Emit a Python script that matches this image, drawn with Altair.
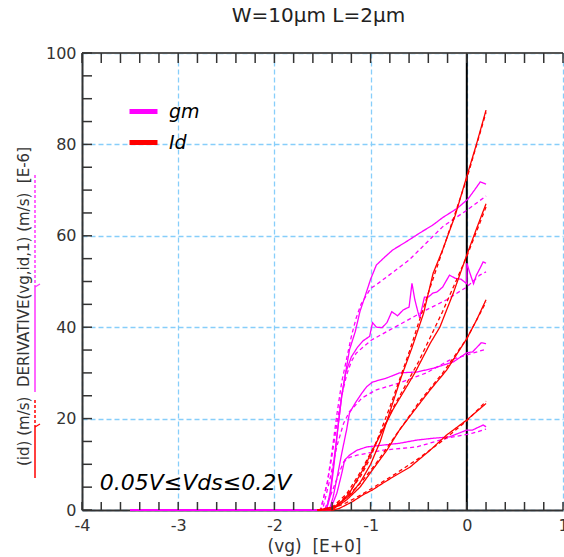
import altair as alt
import pandas as pd

# ---------------- data ----------------
# gm curves (transconductance), measured (solid) and simulated (dashed)
VG_GM1 = [-3.5, -1.46, -1.42, -1.38, -1.34, -1.3, -1.26, -1.22, -1.16, -1.11, -1.06, -1.0, -0.94, -0.85, -0.77, -0.63, -0.49, -0.35, -0.25, -0.1, 0.01, 0.08, 0.14, 0.2]
GM1 = [0, 0, 3, 10, 18, 25, 30, 35, 39, 43.5, 46.6, 50.5, 53.6, 55.4, 56.9, 58.7, 60.6, 62.4, 64, 66, 68, 70, 71.8, 71.3]
VG_GM1S = [-3.5, -1.52, -1.45, -1.4, -1.35, -1.3, -1.25, -1.2, -1.15, -1.1, -1.0, -0.94, -0.6, -0.25, 0.0, 0.2]
GM1S = [0, 0, 6, 13, 21, 28, 33, 38, 42, 45, 48.5, 49.3, 54.7, 62, 65.6, 68.7]

VG_GM2 = [-3.5, -1.46, -1.42, -1.38, -1.34, -1.3, -1.26, -1.2, -1.14, -1.08, -1.01, -0.98, -0.94, -0.88, -0.83, -0.78, -0.72, -0.66, -0.6, -0.57, -0.54, -0.51, -0.49, -0.44, -0.4, -0.35, -0.31, -0.25, -0.18, -0.12, -0.06, 0.0, 0.0, 0.03, 0.07, 0.1, 0.14, 0.17, 0.2]
GM2 = [0, 0, 4, 11, 18, 25, 30, 33.5, 35.5, 37, 38, 41, 40, 39.9, 41, 43.4, 42.5, 43.8, 44.4, 49.6, 46, 43.5, 42, 46.6, 46.6, 47.5, 47.7, 48.8, 51.4, 50.7, 50.5, 49.5, 54, 52, 49.5, 51.4, 53, 54.3, 54]
VG_GM2S = [-3.5, -1.52, -1.45, -1.4, -1.35, -1.3, -1.25, -1.2, -1.15, -1.08, -0.99, -0.8, -0.42, -0.21, 0.0, 0.135, 0.2]
GM2S = [0, 0, 6, 12, 19, 25, 29.5, 32.5, 34.3, 35.6, 37.2, 39.4, 43.8, 46, 48.8, 51.4, 52.1]

VG_GM3 = [-3.5, -1.43, -1.39, -1.34, -1.3, -1.25, -1.22, -1.16, -1.09, -1.04, -0.98, -0.83, -0.7, -0.52, -0.35, -0.14, 0.0, 0.06, 0.15, 0.2]
GM3 = [0, 0, 2.8, 8, 12.4, 17.5, 21.2, 23.4, 25.6, 27, 28, 28.9, 30, 30.2, 31, 32.4, 34.4, 34.6, 36.6, 36.4]
VG_GM3S = [-3.5, -1.5, -1.42, -1.35, -1.28, -1.22, -1.09, -0.94, -0.7, -0.42, -0.18, 0.06, 0.2]
GM3S = [0, 0, 7, 14, 19, 21.5, 24.5, 26.3, 27.8, 30, 32.8, 34.3, 35.2]

VG_GM4 = [-3.5, -1.42, -1.35, -1.3, -1.27, -1.22, -1.14, -1.04, -0.87, -0.7, -0.52, -0.35, -0.18, 0.0, 0.06, 0.17, 0.2]
GM4 = [0, 0, 3.7, 8, 10.9, 12, 13.1, 13.8, 14.2, 14.6, 15.3, 15.7, 16, 17.5, 17.5, 18.6, 18.2]
VG_GM4S = [-3.5, -1.48, -1.4, -1.33, -1.28, -1.22, -1.14, -0.87, -0.52, -0.21, 0.06, 0.2]
GM4S = [0, 0, 4, 8, 10.5, 11.5, 12, 13.1, 13.8, 15.7, 16.8, 17.7]

# Id curves, measured (solid) and simulated (dashed)
VG_ID1 = [-1.55, -1.42, -1.32, -1.2, -1.1, -1.0, -0.9, -0.8, -0.68, -0.57, -0.45, -0.35, -0.25, -0.12, 0.0, 0.1, 0.2]
ID1 = [0, 0.2, 1.5, 3.5, 6.3, 10, 15, 21.5, 29.2, 35.5, 43, 51.8, 57, 64.5, 73, 80, 87.5]
VG_ID1S = [-1.55, -1.4, -1.3, -1.2, -1.1, -1.0, -0.8, -0.6, -0.4, -0.2, 0.0, 0.2]
ID1S = [0, 0.5, 2, 4.5, 7.5, 11.5, 22.5, 34.5, 47.5, 60, 72.5, 87]

VG_ID2 = [-1.55, -1.35, -1.22, -1.08, -0.94, -0.77, -0.54, -0.38, -0.28, -0.14, 0.0, 0.1, 0.2]
ID2 = [0, 0.8, 3.7, 8.8, 14.7, 21.9, 30, 36.5, 40, 47.5, 55.8, 61.5, 67]
VG_ID2S = [-1.55, -1.4, -1.25, -1.1, -0.95, -0.75, -0.5, -0.25, 0.0, 0.2]
ID2S = [0, 0.6, 3.5, 8.5, 14.5, 23, 32.5, 43.5, 55.5, 66.3]

VG_ID3 = [-1.55, -1.39, -1.25, -1.11, -0.98, -0.83, -0.7, -0.52, -0.38, -0.21, 0.0, 0.1, 0.2]
ID3 = [0, 0.2, 2.2, 5, 8.8, 13.1, 17.5, 22.5, 26.3, 30.6, 37.5, 41.5, 46]
VG_ID3S = [-1.55, -1.4, -1.25, -1.1, -0.95, -0.75, -0.5, -0.25, 0.0, 0.2]
ID3S = [0, 0.4, 2.8, 6, 10, 16, 23.5, 30, 37.5, 45.5]

VG_ID4 = [-1.55, -1.39, -1.32, -1.19, -1.08, -0.98, -0.9, -0.77, -0.59, -0.38, -0.21, 0.0, 0.1, 0.2]
ID4 = [0, 0, 0.4, 1.8, 3.3, 4.4, 5.5, 7.2, 9.4, 13.1, 16.4, 19.7, 21.5, 23.3]
VG_ID4S = [-1.55, -1.4, -1.25, -1.1, -0.95, -0.75, -0.5, -0.25, 0.0, 0.2]
ID4S = [0, 0.3, 1.6, 3.3, 5.2, 7.8, 11.3, 15.2, 19.5, 23.8]

QUANTITIES = ["gm", "Id"]
KINDS = ["meas", "sim"]
X_LABELS = [-4, -3, -2, -1, 0, 1]
Y_LABELS = [0, 20, 40, 60, 80, 100]
X_MINOR = [round(-4 + 0.2 * i, 1) for i in range(26)]
Y_MINOR = [5 * i for i in range(21)]
NB = "\u00a0"
TITLE = "W=10\u00b5m L=2\u00b5m"
X_TITLE = "(vg)" + NB + NB + "[E+0]"
Y_TITLE = "(id)" + NB + "(m/s)" + NB + NB + "DERIVATIVE(vg,id,1)" + NB + "(m/s)" + NB + NB + "[E-6]"
NOTE = "0.05V\u2264Vds\u22640.2V"

series = [
    ("gm", "meas", "0.2", VG_GM1, GM1), ("gm", "sim", "0.2", VG_GM1S, GM1S),
    ("gm", "meas", "0.15", VG_GM2, GM2), ("gm", "sim", "0.15", VG_GM2S, GM2S),
    ("gm", "meas", "0.1", VG_GM3, GM3), ("gm", "sim", "0.1", VG_GM3S, GM3S),
    ("gm", "meas", "0.05", VG_GM4, GM4), ("gm", "sim", "0.05", VG_GM4S, GM4S),
    ("Id", "meas", "0.2", VG_ID1, ID1), ("Id", "sim", "0.2", VG_ID1S, ID1S),
    ("Id", "meas", "0.15", VG_ID2, ID2), ("Id", "sim", "0.15", VG_ID2S, ID2S),
    ("Id", "meas", "0.1", VG_ID3, ID3), ("Id", "sim", "0.1", VG_ID3S, ID3S),
    ("Id", "meas", "0.05", VG_ID4, ID4), ("Id", "sim", "0.05", VG_ID4S, ID4S),
]
rows = []
for q, kind, vds, xs, ys in series:
    for i, (xv, yv) in enumerate(zip(xs, ys)):
        rows.append(dict(vg=xv, val=yv, qty=q, kind=kind, sid=f"{q}-{kind}-{vds}", idx=i))
df = pd.DataFrame(rows)

W, H = 481, 457
FONT = "DejaVu Sans"
XS = alt.Scale(domain=[-4, 1], nice=False, zero=False)
YS = alt.Scale(domain=[0, 100], nice=False, zero=False)
GRID = dict(gridColor="#87CEFA", gridDash=[5, 3], gridWidth=1.3)

XAX = alt.Axis(values=X_LABELS, ticks=False, domainColor="#333", domainWidth=2, zindex=0,
               labelFontSize=16, labelColor="#333", labelPadding=7, labelFlush=False,
               labelExpr="datum.value", titleFontSize=17, titleFontWeight="normal",
               titleColor="#333", titleX=232, titleY=41, titleBaseline="alphabetic", **GRID)
YAX = alt.Axis(values=Y_LABELS, ticks=False, domainColor="#333", domainWidth=2, zindex=0,
               labelFontSize=16, labelColor="#333", labelPadding=6, labelFlush=False,
               titleFontSize=15, titleFontWeight="normal", titleColor="#333",
               titleAngle=270, titleX=-59, titleY=253, titleBaseline="middle",
               titleAlign="center", **GRID)


def xenc(field):
    return alt.X(field, scale=XS, axis=XAX, title=X_TITLE)


def yenc(field):
    return alt.Y(field, scale=YS, axis=YAX, title=Y_TITLE)


base = alt.Chart(df).mark_line(strokeWidth=1.3).encode(
    x=xenc("vg:Q"),
    y=yenc("val:Q"),
    color=alt.Color("qty:N", scale=alt.Scale(domain=QUANTITIES, range=["#FF00FF", "#FF0000"]),
                    legend=alt.Legend(orient="none", legendX=45, legendY=42, title=None,
                                      symbolType="stroke", symbolStrokeWidth=5, symbolSize=784,
                                      labelFontSize=19, labelFontStyle="italic", labelFont=FONT,
                                      labelColor="black", labelOffset=9, rowPadding=4, padding=0)),
    strokeDash=alt.StrokeDash("kind:N", scale=alt.Scale(domain=KINDS, range=[[1, 0], [4, 3]]), legend=None),
    detail="sid:N",
    order="idx:Q",
)

xt = pd.DataFrame({"t": X_MINOR})
yt = pd.DataFrame({"t": Y_MINOR})
one = pd.DataFrame({"xz": [0], "ytop": [100]})
note_df = pd.DataFrame({"x": [-3.815], "y": [4.4], "label": [NOTE]})
tick_style = dict(color="#333", strokeWidth=1.5)
bottom_ticks = alt.Chart(xt).mark_rule(**tick_style).encode(
    x=xenc("t:Q"), y=alt.value(H), y2=alt.value(H - 8))
top_ticks = alt.Chart(xt).mark_rule(**tick_style).encode(
    x=xenc("t:Q"), y=alt.value(0), y2=alt.value(10))
left_ticks = alt.Chart(yt).mark_rule(**tick_style).encode(
    y=yenc("t:Q"), x=alt.value(0), x2=alt.value(10))
top_border = alt.Chart(one).mark_rule(color="#555", strokeWidth=2).encode(
    y=yenc("ytop:Q"), x=alt.value(0), x2=alt.value(W))
zero_line = alt.Chart(one).mark_rule(color="black", strokeWidth=2).encode(
    x=xenc("xz:Q"), y=alt.value(0), y2=alt.value(H))
note = alt.Chart(note_df).mark_text(align="left", baseline="alphabetic", fontSize=22,
                                    fontStyle="italic", color="black", font=FONT).encode(
    x=xenc("x:Q"), y=yenc("y:Q"), text="label:N")


# coloured key lines next to the y title
def seg(color, y1, y2, dash=None):
    kw = dict(color=color, strokeWidth=1.5)
    if dash:
        kw["strokeDash"] = dash
    return alt.Chart(one).mark_rule(**kw).encode(
        x=alt.value(-47), y=alt.value(y1), y2=alt.value(y2))


def hook(color, y):
    return alt.Chart(one).mark_rule(color=color, strokeWidth=1.2).encode(
        x=alt.value(-47), x2=alt.value(-42), y=alt.value(y), y2=alt.value(y - 3))


key = [
    seg("#FF0000", 374, 425), seg("#FF0000", 347, 374, [3, 2]), hook("#FF0000", 374),
    seg("#FF33FF", 234, 339), seg("#FF33FF", 122, 234, [3, 2]), hook("#FF33FF", 234),
]

chart = alt.layer(
    zero_line, base, top_border, bottom_ticks, top_ticks, left_ticks, note, *key
).properties(
    width=W, height=H,
    title=alt.TitleParams(TITLE, fontSize=20, fontWeight="normal", color="#222", font=FONT,
                          anchor="middle", offset=19, dx=-4),
    autosize=alt.AutoSizeParams(type="none"),
    padding={"left": 82, "top": 53, "right": 1, "bottom": 47},
).configure(font=FONT).configure_view(stroke=None)

chart.save("out.html", embed_options={"renderer": "svg", "actions": False})
